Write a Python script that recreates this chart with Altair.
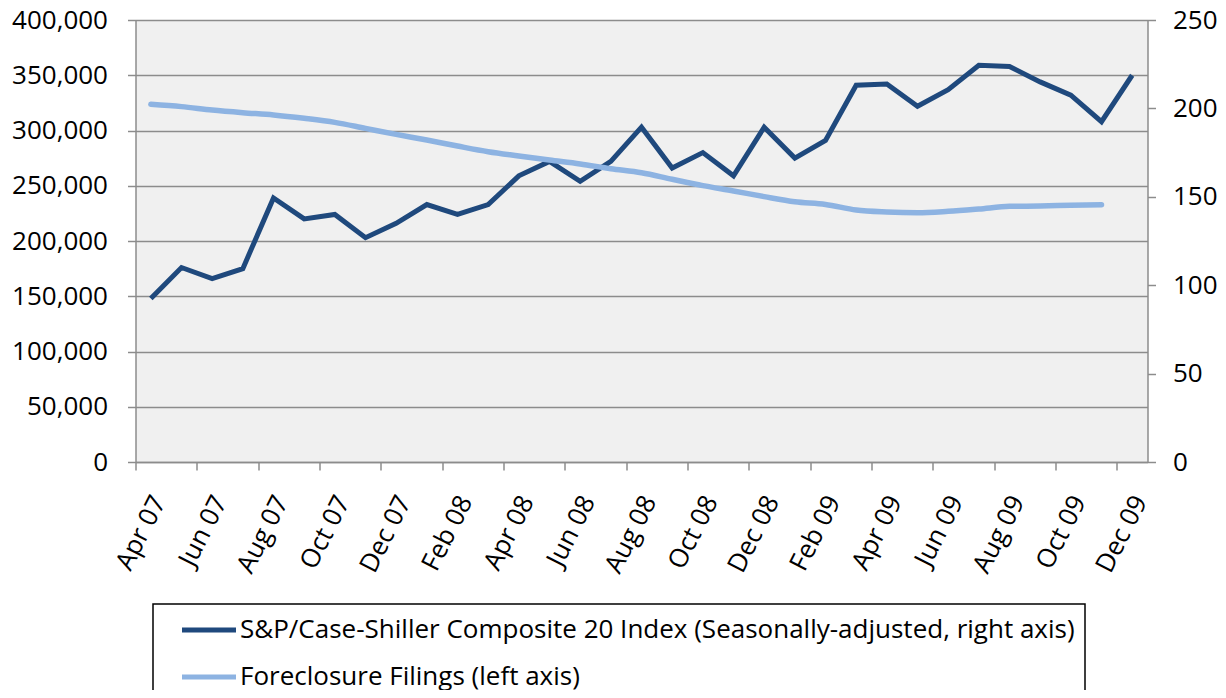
import altair as alt
import pandas as pd

months = [
    "Apr 07", "May 07", "Jun 07", "Jul 07", "Aug 07", "Sep 07", "Oct 07", "Nov 07", "Dec 07",
    "Jan 08", "Feb 08", "Mar 08", "Apr 08", "May 08", "Jun 08", "Jul 08", "Aug 08", "Sep 08",
    "Oct 08", "Nov 08", "Dec 08",
    "Jan 09", "Feb 09", "Mar 09", "Apr 09", "May 09", "Jun 09", "Jul 09", "Aug 09", "Sep 09",
    "Oct 09", "Nov 09", "Dec 09",
]

# dark series (plotted against the left axis)
case_shiller = [
    148000, 176000, 166000, 175000, 239000, 220000, 224000, 203000, 216000,
    233000, 224000, 233000, 259000, 272000, 254000, 272000, 303000, 266000,
    280000, 259000, 303000,
    275000, 291000, 341000, 342000, 322000, 337000, 359000, 358000, 344000,
    332000, 308000, 350000,
]

# light series (plotted against the right axis), no value for Dec 09
foreclosure = [
    202.3, 201.0, 199.1, 197.6, 196.3, 194.4, 192.1, 188.7, 185.3,
    182.1, 178.7, 175.5, 173.1, 170.8, 168.6, 165.9, 163.6, 159.9,
    156.3, 153.3, 150.1,
    147.2, 145.7, 142.5, 141.4, 141.0, 141.8, 143.1, 144.6, 144.8,
    145.2, 145.5,
]

left_ticks = [0, 50000, 100000, 150000, 200000, 250000, 300000, 350000, 400000]
right_ticks = [0, 50, 100, 150, 200, 250]

dark_name = "S&P/Case-Shiller Composite 20 Index (Seasonally-adjusted, right axis)"
light_name = "Foreclosure Filings (left axis)"
dark_color = "#1F497D"
light_color = "#8DB3E2"

rows = []
for m, v in zip(months, case_shiller):
    rows.append({"month": m, "series": dark_name, "value": v})
for m, v in zip(months, foreclosure):
    rows.append({"month": m, "series": light_name, "value": v})
df = pd.DataFrame(rows)

W = 1012
H = 442
step = W / len(months)
FONT = "Open Sans"
GRAY = "#8c8c8c"

x_enc = alt.X(
    "month:O",
    sort=months,
    scale=alt.Scale(type="point", padding=0.5, domain=months),
    axis=alt.Axis(
        values=months[::2],
        title=None,
        labelAngle=-63,
        labelAlign="right",
        labelBaseline="middle",
        tickOffset=-step / 2,
        labelOffset=step / 2 + 8,
        labelPadding=27,
        tickSize=8,
        grid=False,
    ),
)

color_enc = alt.Color(
    "series:N",
    scale=alt.Scale(domain=[dark_name, light_name], range=[dark_color, light_color]),
    legend=alt.Legend(
        orient="none",
        legendX=17.5,
        legendY=584,
        title=None,
        direction="vertical",
        symbolType="M-2,0L2,0",
        symbolSize=729,
        symbolStrokeWidth=5,
        symbolFillColor="transparent",
        symbolOffset=30,
        labelOffset=15,
        labelFont=FONT,
        labelFontSize=26,
        labelColor="#000000",
        labelLimit=2000,
        strokeColor="#000000",
        fillColor="#ffffff",
        padding=10,
        rowPadding=18,
    ),
)

base = alt.Chart(df)

dark_layer = base.transform_filter(
    alt.datum.series == dark_name
).mark_line(strokeWidth=5).encode(
    x=x_enc,
    y=alt.Y(
        "value:Q",
        scale=alt.Scale(domain=[0, 400000], nice=False),
        axis=alt.Axis(
            values=left_ticks,
            format=",d",
            title=None,
            orient="left",
            grid=True,
            tickSize=8,
            labelPadding=20,
        ),
    ),
    color=color_enc,
)

light_layer = base.transform_filter(
    alt.datum.series == light_name
).mark_line(strokeWidth=5.5, interpolate="monotone", strokeCap="round").encode(
    x=x_enc,
    y=alt.Y(
        "value:Q",
        scale=alt.Scale(domain=[0, 250], nice=False),
        axis=alt.Axis(
            values=right_ticks,
            title=None,
            orient="right",
            grid=False,
            tickSize=8,
            labelPadding=17,
        ),
    ),
    color=color_enc,
)

chart = alt.layer(dark_layer, light_layer).resolve_scale(
    y="independent"
).properties(
    width=W,
    height=H,
    autosize=alt.AutoSizeParams(type="none"),
    padding={"left": 127.5, "top": 12, "right": 70.5, "bottom": 228},
    background="#ffffff",
).configure_view(
    fill="#f0f0f0",
    stroke="transparent",
).configure_axis(
    labelFont=FONT,
    labelFontSize=26,
    labelColor="#000000",
    domainColor=GRAY,
    domainWidth=1.5,
    tickColor=GRAY,
    tickWidth=1.5,
    gridColor=GRAY,
    gridWidth=1.5,
    gridOpacity=1,
).configure_legend(
    strokeWidth=1.5,
)

chart.save("out.html", embed_options={"renderer": "svg", "actions": False})
